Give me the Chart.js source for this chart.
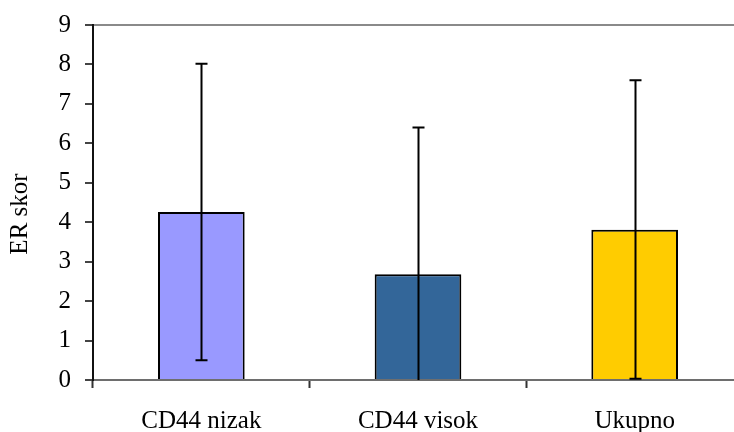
<!DOCTYPE html>
<html>
<head>
<meta charset="utf-8">
<script src="https://cdn.jsdelivr.net/npm/chart.js@4/dist/chart.umd.min.js"></script>
<style>
  html, body { margin: 0; padding: 0; background: #fff; overflow: hidden; }
  canvas { display: block; }
</style>
</head>
<body>
<canvas id="c" width="760" height="432"></canvas>
<script>
// ER score by CD44 group: mean with the ends of the error bar
const categories = ['CD44 nizak', 'CD44 visok', 'Ukupno'];
const meanScore = [4.26, 2.68, 3.81];
const errorUpper = [8.02, 6.40, 7.60];
const errorLower = [0.50, -1.04, 0.03];
const barColors = ['#9999FF', '#336699', '#FFCC00'];
const yTicks = [0, 1, 2, 3, 4, 5, 6, 7, 8, 9];
const yTitle = 'ER skor';

const FONT_FAMILY = '"Liberation Serif", "Times New Roman", serif';
const FONT = { family: FONT_FAMILY, size: 25 };

// Draws vertical whiskers with caps, clipped to the plot area
const errorBars = {
  id: 'errorBars',
  afterDatasetsDraw(chart) {
    const { ctx, chartArea, scales } = chart;
    const meta = chart.getDatasetMeta(0);
    ctx.save();
    ctx.beginPath();
    ctx.rect(chartArea.left, chartArea.top, chartArea.right - chartArea.left, chartArea.bottom - chartArea.top);
    ctx.clip();
    ctx.strokeStyle = '#000';
    ctx.lineWidth = 2;
    meta.data.forEach((bar, i) => {
      const x = Math.round(bar.x) + 0.5;
      const yHi = scales.y.getPixelForValue(errorUpper[i]);
      const yLo = scales.y.getPixelForValue(errorLower[i]);
      ctx.beginPath();
      ctx.moveTo(x, yHi);
      ctx.lineTo(x, yLo);
      ctx.moveTo(x - 6, yHi);
      ctx.lineTo(x + 6, yHi);
      ctx.moveTo(x - 6, yLo);
      ctx.lineTo(x + 6, yLo);
      ctx.stroke();
    });
    ctx.restore();
  }
};

// Rotated y-axis title, placed a little below the middle of the axis
const axisTitle = {
  id: 'axisTitle',
  afterDraw(chart) {
    const { ctx } = chart;
    ctx.save();
    ctx.translate(20, 214);
    ctx.rotate(-Math.PI / 2);
    ctx.font = `${FONT.size}px ${FONT_FAMILY}`;
    ctx.fillStyle = '#000';
    ctx.textAlign = 'center';
    ctx.textBaseline = 'middle';
    ctx.fillText(yTitle, 0, 0);
    ctx.restore();
  }
};

new Chart(document.getElementById('c'), {
  type: 'bar',
  data: {
    labels: categories,
    datasets: [{
      data: meanScore,
      backgroundColor: barColors,
      borderColor: '#000',
      borderWidth: 2,
      borderSkipped: 'start',
      barPercentage: 0.4,
      categoryPercentage: 1.0
    }]
  },
  options: {
    responsive: false,
    animation: false,
    layout: { padding: { top: 25, right: 17, left: 0, bottom: 0 } },
    plugins: { legend: { display: false }, tooltip: { enabled: false } },
    scales: {
      x: {
        afterFit(scale) { scale.height = 52; },
        border: { color: '#6e6e6e', width: 2 },
        grid: { offset: true, drawOnChartArea: false, tickLength: 8, tickColor: '#333', tickWidth: 2 },
        ticks: { color: '#000', font: FONT, padding: 18 }
      },
      y: {
        min: 0,
        max: 9,
        afterFit(scale) { scale.width = 93; },
        afterBuildTicks(scale) { scale.ticks = yTicks.map(v => ({ value: v })); },
        border: { color: '#111', width: 2 },
        grid: {
          color: ctx => (ctx.tick && ctx.tick.value === 9 ? '#8a8a8a' : 'rgba(0,0,0,0)'),
          lineWidth: 2,
          tickLength: 8,
          tickColor: '#444',
          tickWidth: 2
        },
        ticks: { color: '#000', font: { family: FONT_FAMILY, size: 25, lineHeight: 0.88 }, padding: 14 }
      }
    }
  },
  plugins: [errorBars, axisTitle]
});
</script>
</body>
</html>
